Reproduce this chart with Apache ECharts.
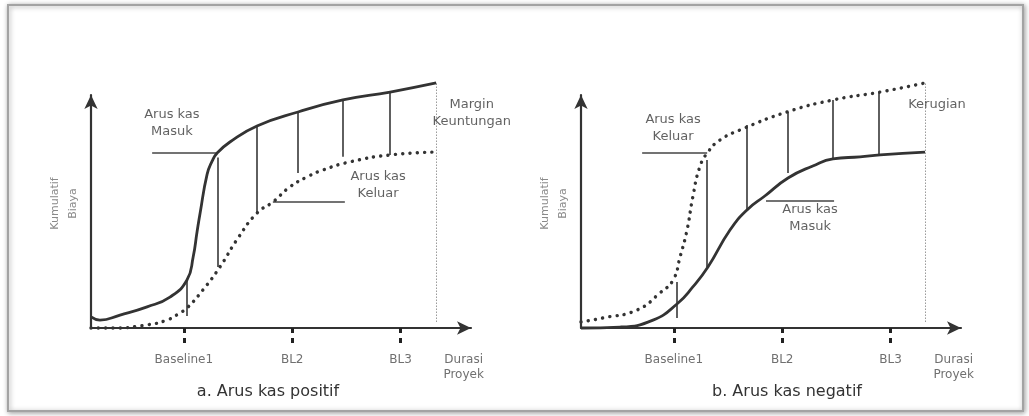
<!DOCTYPE html>
<html><head><meta charset="utf-8">
<script src="https://cdn.jsdelivr.net/npm/echarts@6/dist/echarts.min.js"></script>
<style>html,body{margin:0;padding:0;background:#fff}#c{width:1029px;height:416px}</style>
</head><body><div id="c"></div><script>
// ---- axis ticks / labels (x = % of project duration) ----
const tickValues = [24, 52, 80];
const labelValues = [24, 52, 80, 96.3];
const tickLabels = ['Baseline1', 'BL2', 'BL3', 'Durasi\nProyek'];
const yAxisName = 'Kumulatif\nBiaya';
const panelTitles = ['a. Arus kas positif', 'b. Arus kas negatif'];

// ---- panel a: positive cash flow ----
const aMasukX = [0, 2.3, 7.5, 14.5, 20.4, 24.8, 26.4, 27.4, 28.2, 30.0, 31.3, 32.6, 35.9, 42.9, 53.5, 65.1, 77.3, 89.2];
const aMasukY = [4.6, 3.3, 5.4, 8.8, 12.9, 20.0, 29.6, 40.0, 47.9, 64.0, 69.5, 72.9, 77.5, 84.2, 90.0, 95.0, 98.3, 102.1];
const aKeluarX = [0, 5.7, 14.5, 19.6, 23.0, 24.8, 28.9, 33.3, 38.0, 42.9, 47.0, 51.4, 55.8, 59.9, 66.9, 77.3, 89.2];
const aKeluarY = [0, 0, 1.3, 3.3, 6.3, 8.3, 15.8, 25.4, 37.5, 47.9, 52.5, 58.8, 62.9, 65.8, 69.2, 72.1, 73.3];
const aDropX = [24.8, 32.8, 42.9, 53.5, 65.1, 77.3];
const aDropTop = [20.0, 71.0, 84.6, 90.0, 95.0, 98.3];
const aDropBottom = [5.0, 25.4, 48.3, 64.6, 71.3, 72.1];
const aLeadX1 = [15.8, 47.0];
const aLeadX2 = [32.6, 65.6];
const aLeadY = [72.9, 52.5];
const aNoteText = ['Arus kas\nMasuk', 'Arus kas\nKeluar', 'Margin\nKeuntungan'];
const aNoteX = [20.9, 74.2, 98.4];
const aNoteY = [85.4, 59.6, 89.4];

// ---- panel b: negative cash flow ----
const bMasukX = [0, 10.1, 18.6, 24.8, 28.9, 32.8, 38.5, 42.9, 47.5, 53.5, 59.9, 65.1, 72.1, 77.3, 88.9];
const bMasukY = [0, 0.4, 3.3, 10.0, 17.1, 25.4, 40.8, 49.2, 55.0, 62.5, 67.5, 70.5, 71.3, 72.1, 73.3];
const bKeluarX = [0, 5.7, 14.5, 20.4, 23.8, 25.6, 27.4, 28.9, 30.7, 32.8, 35.9, 41.1, 53.2, 65.1, 77.3, 88.9];
const bKeluarY = [2.5, 4.2, 7.5, 14.6, 20.0, 29.6, 40.8, 54.6, 67.1, 73.3, 78.3, 82.5, 90.0, 95.0, 98.3, 102.1];
const bDropX = [24.8, 32.6, 42.9, 53.5, 65.1, 77.0];
const bDropTop = [19.2, 70.0, 84.6, 90.0, 95.0, 98.3];
const bDropBottom = [4.2, 25.4, 49.2, 64.6, 70.8, 72.1];
const bLeadX1 = [15.8, 47.8];
const bLeadX2 = [32.6, 65.4];
const bLeadY = [72.9, 52.9];
const bNoteText = ['Arus kas\nKeluar', 'Arus kas\nMasuk', 'Kerugian'];
const bNoteX = [23.8, 59.2, 92.0];
const bNoteY = [83.3, 45.6, 92.9];

// project end marker
const endX = [89.2, 88.9];
const endYLow = 2.5, endYHigh = 102.1;

const X_MAX = 98.2, Y_MAX = 97.08;
const FONT = 'DejaVu Sans';
const INK = '#333333';

const zip = (xs, ys) => xs.map((x, i) => [x, ys[i]]);

const panels = [
  {mx: aMasukX, my: aMasukY, kx: aKeluarX, ky: aKeluarY, dx: aDropX, dt: aDropTop, db: aDropBottom,
   lx1: aLeadX1, lx2: aLeadX2, ly: aLeadY, nt: aNoteText, nx: aNoteX, ny: aNoteY},
  {mx: bMasukX, my: bMasukY, kx: bKeluarX, ky: bKeluarY, dx: bDropX, dt: bDropTop, db: bDropBottom,
   lx1: bLeadX1, lx2: bLeadX2, ly: bLeadY, nt: bNoteText, nx: bNoteX, ny: bNoteY}
];

const grids = [
  {left: 91, width: 380, top: 95, bottom: 88},
  {left: 581, width: 380, top: 95, bottom: 88}
];

const xAxes = [], yAxes = [], series = [];
panels.forEach((p, gi) => {
  xAxes.push({
    type: 'value', gridIndex: gi, min: 0, max: X_MAX, position: 'bottom', offset: 15,
    axisLine: {show: true, symbol: ['none', 'arrow'], symbolSize: [10, 14], lineStyle: {color: INK, width: 2.2}},
    axisTick: {show: true, customValues: tickValues, length: 5, lineStyle: {color: '#222', width: 3}},
    axisLabel: {show: true, customValues: labelValues, margin: 9, color: '#707070', fontFamily: FONT, fontSize: 12,
      lineHeight: 15, verticalAlign: 'top',
      formatter: v => { const i = labelValues.indexOf(v); return i >= 0 ? tickLabels[i] : ''; }},
    splitLine: {show: false}
  });
  xAxes.push({
    type: 'value', gridIndex: gi, min: 0, max: X_MAX, position: 'bottom', offset: 15,
    axisLine: {show: false},
    axisTick: {show: true, inside: true, customValues: tickValues, length: 5, lineStyle: {color: '#222', width: 3}},
    axisLabel: {show: false}, splitLine: {show: false}
  });
  yAxes.push({
    type: 'value', gridIndex: gi, min: 0, max: Y_MAX,
    axisLine: {show: true, symbol: ['none', 'arrow'], symbolSize: [10, 14], lineStyle: {color: INK, width: 2.2}},
    axisTick: {show: false}, axisLabel: {show: false}, splitLine: {show: false},
    name: yAxisName, nameLocation: 'middle', nameRotate: 90, nameGap: 9,
    nameTextStyle: {color: '#8a8a8a', fontSize: 11, lineHeight: 18, fontFamily: FONT, padding: [0, 0, 0, 16]}
  });
  const xi = gi * 2;
  series.push({
    type: 'line', xAxisIndex: xi, yAxisIndex: gi, data: zip(p.mx, p.my), smooth: 0.5,
    showSymbol: false, clip: false, lineStyle: {color: INK, width: 2.8}, z: 4
  });
  series.push({
    type: 'line', xAxisIndex: xi, yAxisIndex: gi, data: zip(p.kx, p.ky), smooth: 0.5,
    showSymbol: false, clip: false, lineStyle: {color: INK, width: 3.4, type: [0.1, 7.2], cap: 'round'}, z: 4
  });
  const segs = p.dx.map((x, i) => ({coords: [[x, p.dt[i]], [x, p.db[i]]]}))
    .concat(p.ly.map((y, i) => ({coords: [[p.lx1[i], y], [p.lx2[i], y]]})));
  series.push({
    type: 'lines', coordinateSystem: 'cartesian2d', xAxisIndex: xi, yAxisIndex: gi, clip: false,
    data: segs, lineStyle: {color: '#444', width: 1.7, opacity: 1}, z: 3
  });
  series.push({
    type: 'lines', coordinateSystem: 'cartesian2d', xAxisIndex: xi, yAxisIndex: gi, clip: false,
    data: [{coords: [[endX[gi], endYLow], [endX[gi], endYHigh]]}],
    lineStyle: {color: '#9a9a9a', width: 1, type: [1.5, 1.5], opacity: 1}, z: 2
  });
  series.push({
    type: 'scatter', xAxisIndex: xi, yAxisIndex: gi, clip: false, symbolSize: 0, silent: true,
    data: p.nt.map((t, i) => ({name: t, value: [p.nx[i], p.ny[i]]})),
    label: {show: true, position: 'inside', formatter: '{b}', color: '#3a3a3a', fontFamily: FONT,
      fontSize: 13, lineHeight: 17, align: 'center', verticalAlign: 'middle'}, z: 5
  });
});

const chart = echarts.init(document.getElementById('c'), null, {renderer: 'canvas'});
chart.setOption({
  animation: false,
  backgroundColor: '#ffffff',
  grid: grids,
  xAxis: xAxes,
  yAxis: yAxes,
  series: series,
  graphic: [
    {type: 'rect', z: -10, silent: true, shape: {x: 8, y: 5, width: 1015, height: 406},
     style: {fill: '#ffffff', stroke: '#a3a3a3', lineWidth: 2, shadowBlur: 5, shadowColor: 'rgba(0,0,0,0.35)', shadowOffsetX: 1, shadowOffsetY: 1}},
    {type: 'text', z: 10, silent: true, x: 268, y: 392,
     style: {text: panelTitles[0], align: 'center', verticalAlign: 'middle', fill: '#333', font: '16px "DejaVu Sans"'}},
    {type: 'text', z: 10, silent: true, x: 787, y: 392,
     style: {text: panelTitles[1], align: 'center', verticalAlign: 'middle', fill: '#333', font: '16px "DejaVu Sans"'}}
  ]
});
</script></body></html>
